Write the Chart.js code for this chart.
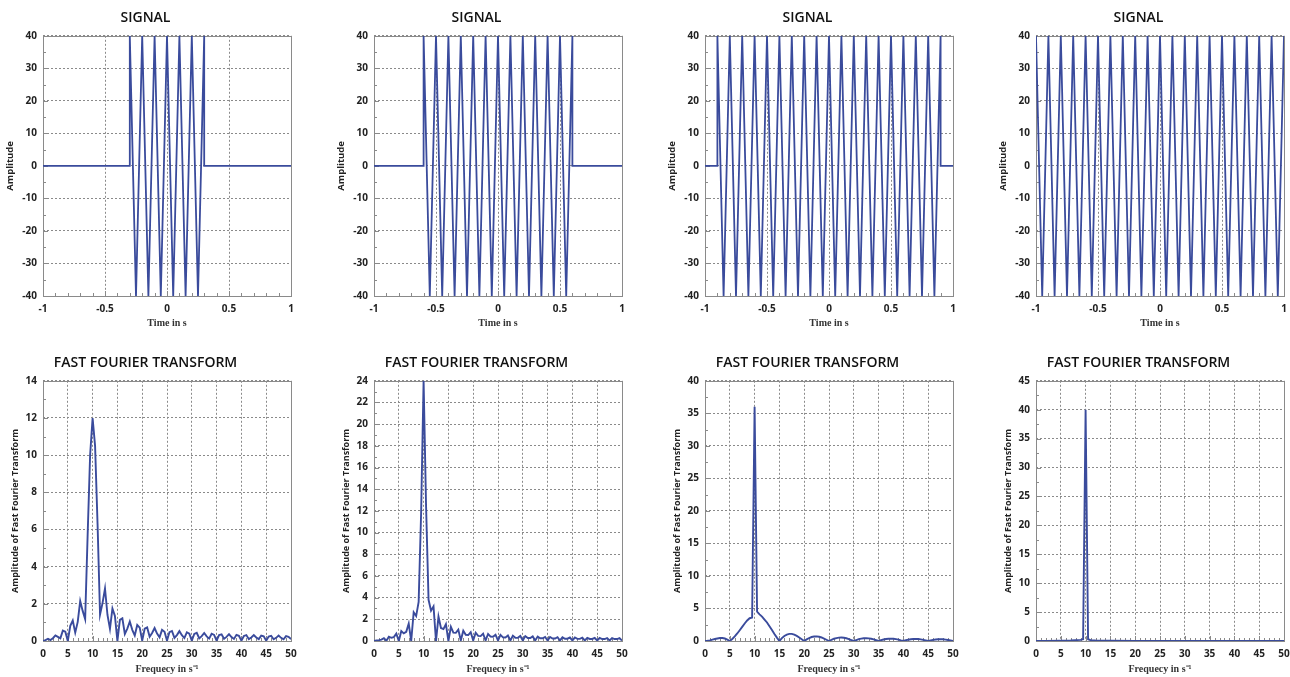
<!DOCTYPE html>
<html>
<head>
<meta charset="utf-8">
<script src="https://cdn.jsdelivr.net/npm/chart.js@4/dist/chart.umd.min.js"></script>
<style>
html,body{margin:0;padding:0;background:#fff;width:1290px;height:677px;overflow:hidden;position:relative}
</style>
</head>
<body>
<script>
// ---------- DATA ----------
const sigXTicks = [-1, -0.5, 0, 0.5, 1];
const sigYTicks = [-40, -30, -20, -10, 0, 10, 20, 30, 40];

const sig1T = [-1, -0.3, -0.3, -0.25, -0.2, -0.15, -0.1, -0.05, 0, 0.05, 0.1, 0.15, 0.2, 0.25, 0.3, 0.3, 1];
const sig1A = [0, 0, 40, -40, 40, -40, 40, -40, 40, -40, 40, -40, 40, -40, 40, 0, 0];

const sig2T = [-1, -0.6, -0.6, -0.55, -0.5, -0.45, -0.4, -0.35, -0.3, -0.25, -0.2, -0.15, -0.1, -0.05, 0, 0.05, 0.1, 0.15, 0.2, 0.25, 0.3, 0.35, 0.4, 0.45, 0.5, 0.55, 0.6, 0.6, 1];
const sig2A = [0, 0, 40, -40, 40, -40, 40, -40, 40, -40, 40, -40, 40, -40, 40, -40, 40, -40, 40, -40, 40, -40, 40, -40, 40, -40, 40, 0, 0];

const sig3T = [-1, -0.9, -0.9, -0.85, -0.8, -0.75, -0.7, -0.65, -0.6, -0.55, -0.5, -0.45, -0.4, -0.35, -0.3, -0.25, -0.2, -0.15, -0.1, -0.05, 0, 0.05, 0.1, 0.15, 0.2, 0.25, 0.3, 0.35, 0.4, 0.45, 0.5, 0.55, 0.6, 0.65, 0.7, 0.75, 0.8, 0.85, 0.9, 0.9, 1];
const sig3A = [0, 0, 40, -40, 40, -40, 40, -40, 40, -40, 40, -40, 40, -40, 40, -40, 40, -40, 40, -40, 40, -40, 40, -40, 40, -40, 40, -40, 40, -40, 40, -40, 40, -40, 40, -40, 40, -40, 40, 0, 0];

const sig4T = [-1, -0.95, -0.9, -0.85, -0.8, -0.75, -0.7, -0.65, -0.6, -0.55, -0.5, -0.45, -0.4, -0.35, -0.3, -0.25, -0.2, -0.15, -0.1, -0.05, 0, 0.05, 0.1, 0.15, 0.2, 0.25, 0.3, 0.35, 0.4, 0.45, 0.5, 0.55, 0.6, 0.65, 0.7, 0.75, 0.8, 0.85, 0.9, 0.95, 1];
const sig4A = [40, -40, 40, -40, 40, -40, 40, -40, 40, -40, 40, -40, 40, -40, 40, -40, 40, -40, 40, -40, 40, -40, 40, -40, 40, -40, 40, -40, 40, -40, 40, -40, 40, -40, 40, -40, 40, -40, 40, -40, 40];

const fftXTicks = [0, 5, 10, 15, 20, 25, 30, 35, 40, 45, 50];
const fft1YTicks = [0, 2, 4, 6, 8, 10, 12, 14];
const fft2YTicks = [0, 2, 4, 6, 8, 10, 12, 14, 16, 18, 20, 22, 24];
const fft3YTicks = [0, 5, 10, 15, 20, 25, 30, 35, 40];
const fft4YTicks = [0, 5, 10, 15, 20, 25, 30, 35, 40, 45];

const fftF = [0, 0.5, 1, 1.5, 2, 2.5, 3, 3.5, 4, 4.5, 5, 5.5, 6, 6.5, 7, 7.5, 8, 8.5, 9, 9.5,
  10, 10.5, 11, 11.5, 12, 12.5, 13, 13.5, 14, 14.5, 15, 15.5, 16, 16.5, 17, 17.5, 18, 18.5, 19, 19.5,
  20, 20.5, 21, 21.5, 22, 22.5, 23, 23.5, 24, 24.5, 25, 25.5, 26, 26.5, 27, 27.5, 28, 28.5, 29, 29.5,
  30, 30.5, 31, 31.5, 32, 32.5, 33, 33.5, 34, 34.5, 35, 35.5, 36, 36.5, 37, 37.5, 38, 38.5, 39, 39.5,
  40, 40.5, 41, 41.5, 42, 42.5, 43, 43.5, 44, 44.5, 45, 45.5, 46, 46.5, 47, 47.5, 48, 48.5, 49, 49.5, 50];

const fft1A = [0, 0.05, 0.12, 0.05, 0.15, 0.3, 0.22, 0.14, 0.56, 0.5,
  0, 0.82, 1.1, 0.45, 1.03, 2.15, 1.62, 1.18, 5.7, 10.0,
  12, 10.5, 6.3, 1.42, 2.04, 2.82, 1.4, 0.65, 1.75, 1.35,
  0, 1.14, 1.22, 0.38, 0.67, 1.05, 0.6, 0.3, 0.86, 0.72,
  0.02, 0.66, 0.73, 0.23, 0.43, 0.7, 0.4, 0.2, 0.6, 0.5,
  0.02, 0.48, 0.54, 0.17, 0.32, 0.53, 0.31, 0.16, 0.47, 0.39,
  0.02, 0.38, 0.44, 0.14, 0.26, 0.43, 0.25, 0.13, 0.39, 0.33,
  0.02, 0.32, 0.36, 0.12, 0.22, 0.37, 0.21, 0.11, 0.33, 0.28,
  0.02, 0.27, 0.32, 0.1, 0.19, 0.32, 0.19, 0.1, 0.29, 0.25,
  0.02, 0.24, 0.28, 0.09, 0.17, 0.29, 0.17, 0.09, 0.26, 0.22,
  0.1];

const fft2A = [0, 0.06, 0.08, 0.12, 0.25, 0.02, 0.4, 0.3, 0.36, 0.68,
  0, 0.92, 0.7, 0.84, 1.6, 0, 2.65, 2.3, 3.6, 11.8,
  24, 12.4, 3.8, 2.8, 3.2, 0, 2.25, 1.2, 1.1, 1.55,
  0, 1.3, 0.77, 0.75, 1.05, 0.05, 0.95, 0.57, 0.55, 0.82,
  0.05, 0.76, 0.47, 0.45, 0.68, 0.05, 0.65, 0.4, 0.39, 0.58,
  0.05, 0.56, 0.34, 0.33, 0.51, 0.05, 0.49, 0.3, 0.29, 0.46,
  0.05, 0.45, 0.27, 0.27, 0.42, 0.05, 0.41, 0.25, 0.25, 0.38,
  0.05, 0.37, 0.23, 0.23, 0.35, 0.05, 0.34, 0.21, 0.21, 0.32,
  0.05, 0.32, 0.2, 0.2, 0.3, 0.05, 0.29, 0.19, 0.19, 0.28,
  0.05, 0.28, 0.18, 0.18, 0.27, 0.05, 0.27, 0.18, 0.18, 0.26,
  0.05];

const fft3A = [0, 0.03, 0.1, 0.2, 0.3, 0.38, 0.45, 0.45, 0.38, 0.22,
  0, 0.31, 0.7, 1.16, 1.66, 2.18, 2.69, 3.16, 3.5, 3.6,
  36, 4.5, 4.1, 3.75, 3.3, 2.85, 2.28, 1.69, 1.09, 0.52,
  0, 0.44, 0.77, 0.99, 1.1, 1.1, 0.97, 0.79, 0.54, 0.27,
  0, 0.25, 0.46, 0.61, 0.69, 0.71, 0.65, 0.54, 0.37, 0.19,
  0, 0.19, 0.35, 0.45, 0.52, 0.54, 0.5, 0.42, 0.3, 0.15,
  0, 0.15, 0.28, 0.37, 0.42, 0.43, 0.4, 0.34, 0.24, 0.12,
  0, 0.13, 0.23, 0.31, 0.35, 0.37, 0.34, 0.29, 0.21, 0.1,
  0, 0.11, 0.2, 0.27, 0.3, 0.32, 0.3, 0.25, 0.18, 0.09,
  0, 0.1, 0.18, 0.24, 0.27, 0.28, 0.26, 0.22, 0.16, 0.08,
  0];

const fft4F = [0, 2, 5, 7, 8, 9, 9.5, 10, 10.5, 11, 12, 15, 20, 50];
const fft4A = [0.02, 0.03, 0.05, 0.1, 0.15, 0.2, 0.3, 40, 0.3, 0.15, 0.08, 0.04, 0.03, 0.02];

const sigTitle = 'SIGNAL';
const fftTitle = 'FAST FOURIER TRANSFORM';
const sigXTitle = 'Time in s';
const sigYTitle = 'Amplitude';
const fftXTitle = 'Frequecy in s\u207B\u00B9';
const fftYTitle = 'Amplitude of Fast Fourier Transform';

// ---------- DRAWING ----------
const LINE = '#3a4b9c';
const GRID = '#8a8a8a';
const FRAME = '#8a8a8a';
Chart.defaults.font.family = "'Open Sans', 'Liberation Sans', sans-serif";

const framePlugin = {
  id: 'frame',
  beforeDatasetsDraw(chart, args, o) {
    const {ctx, chartArea: a, scales: {x, y}} = chart;
    ctx.save();
    ctx.strokeStyle = FRAME;
    ctx.lineWidth = 1;
    ctx.setLineDash([]);
    ctx.beginPath();
    const nx = Math.round((x.max - x.min) / o.xMinor);
    for (let i = 0; i <= nx; i++) {
      const v = x.min + i * o.xMinor;
      const px = Math.round(x.getPixelForValue(v)) + 0.5;
      const major = Math.abs(v / o.xMajor - Math.round(v / o.xMajor)) < 1e-6;
      const len = major ? 5 : 3;
      ctx.moveTo(px, a.bottom); ctx.lineTo(px, a.bottom - len);
    }
    const ny = Math.round((y.max - y.min) / o.yMinor);
    for (let i = 0; i <= ny; i++) {
      const v = y.min + i * o.yMinor;
      const py = Math.round(y.getPixelForValue(v)) + 0.5;
      const major = Math.abs(v / o.yMajor - Math.round(v / o.yMajor)) < 1e-6;
      const len = major ? 5 : 3;
      ctx.moveTo(a.left, py); ctx.lineTo(a.left + len, py);
    }
    ctx.stroke();
    ctx.strokeRect(Math.round(a.left) + 0.5, Math.round(a.top) + 0.5,
                   Math.round(a.right - a.left), Math.round(a.bottom - a.top));
    ctx.restore();
  }
};

function makePanel(left, top, w, h) {
  const c = document.createElement('canvas');
  c.width = w; c.height = h;
  c.style.cssText = 'position:absolute;left:' + left + 'px;top:' + top + 'px;width:' + w + 'px;height:' + h + 'px';
  document.body.appendChild(c);
  return c;
}

function drawChart(canvas, xs, ys, o) {
  const pts = xs.map((v, i) => ({x: v, y: ys[i]}));
  const tickFont = {family: "'Open Sans', sans-serif", size: 10, weight: 'bold'};
  new Chart(canvas, {
    type: 'line',
    data: {datasets: [{data: pts, borderColor: LINE, borderWidth: o.lw, pointRadius: 0, tension: 0, fill: false}]},
    options: {
      responsive: false, animation: false, events: [],
      layout: {padding: {left: 0, right: 9, top: 0, bottom: 0}},
      plugins: {
        legend: {display: false},
        tooltip: {enabled: false},
        title: {display: true, text: o.title, color: '#111',
                font: {family: "'Open Sans', sans-serif", size: 14, weight: '600'},
                padding: {top: 10, bottom: 9}},
        frame: {xMinor: o.xMinor, xMajor: o.xMajor, yMinor: o.yMinor, yMajor: o.yMajor}
      },
      scales: {
        x: {
          type: 'linear', min: o.xmin, max: o.xmax,
          afterBuildTicks: s => { s.ticks = o.xticks.map(v => ({value: v})); },
          afterFit: s => { s.height = o.xh; s.paddingLeft = 0; s.paddingRight = 0; },
          ticks: {color: '#222', font: tickFont, padding: 7, maxRotation: 0, autoSkip: false,
                  callback: v => String(v)},
          grid: {color: GRID, lineWidth: 1, drawTicks: false},
          border: {display: false, dash: [2, 2]},
          title: {display: true, text: o.xtitle, color: '#333',
                  font: {family: "'Liberation Serif', serif", size: 10, weight: 'bold'},
                  padding: {top: 0, bottom: o.xtPad}}
        },
        y: {
          type: 'linear', min: o.ymin, max: o.ymax,
          afterBuildTicks: s => { s.ticks = o.yticks.map(v => ({value: v})); },
          afterFit: s => { s.width = 43; s.paddingTop = 0; s.paddingBottom = 0; },
          ticks: {color: '#222', font: tickFont, padding: 6, autoSkip: false,
                  callback: v => String(v)},
          grid: {color: GRID, lineWidth: 1, drawTicks: false},
          border: {display: false, dash: [2, 2]},
          title: {display: true, text: o.ytitle, color: '#222',
                  font: {family: "'Open Sans', sans-serif", size: o.ytSize, weight: 'bold'},
                  padding: {top: o.ytPad, bottom: 0}}
        }
      }
    },
    plugins: [framePlugin]
  });
}

const colLeft = [0, 331, 662, 993];
const sigSets = [[sig1T, sig1A], [sig2T, sig2A], [sig3T, sig3A], [sig4T, sig4A]];
const fftSets = [[fftF, fft1A, fft1YTicks], [fftF, fft2A, fft2YTicks], [fftF, fft3A, fft3YTicks], [fft4F, fft4A, fft4YTicks]];

sigSets.forEach((s, i) => {
  drawChart(makePanel(colLeft[i], 0, 300, 335), s[0], s[1], {
    title: sigTitle, xtitle: sigXTitle, ytitle: sigYTitle,
    xmin: -1, xmax: 1, ymin: -40, ymax: 40,
    xticks: sigXTicks, yticks: sigYTicks,
    xMinor: 0.1, xMajor: 0.5, yMinor: 5, yMajor: 10,
    xh: 39, xtPad: 6, ytPad: 5, ytSize: 9.5, lw: 1.8
  });
});

fftSets.forEach((s, i) => {
  const yt = s[2];
  drawChart(makePanel(colLeft[i], 345, 300, 332), s[0], s[1], {
    title: fftTitle, xtitle: fftXTitle, ytitle: fftYTitle,
    xmin: 0, xmax: 50, ymin: 0, ymax: yt[yt.length - 1],
    xticks: fftXTicks, yticks: yt,
    xMinor: 1, xMajor: 5, yMinor: (yt[1] - yt[0]) / 2, yMajor: yt[1] - yt[0],
    xh: 36, xtPad: 2, ytPad: 10, ytSize: 9, lw: 1.9
  });
});
</script>
</body>
</html>
